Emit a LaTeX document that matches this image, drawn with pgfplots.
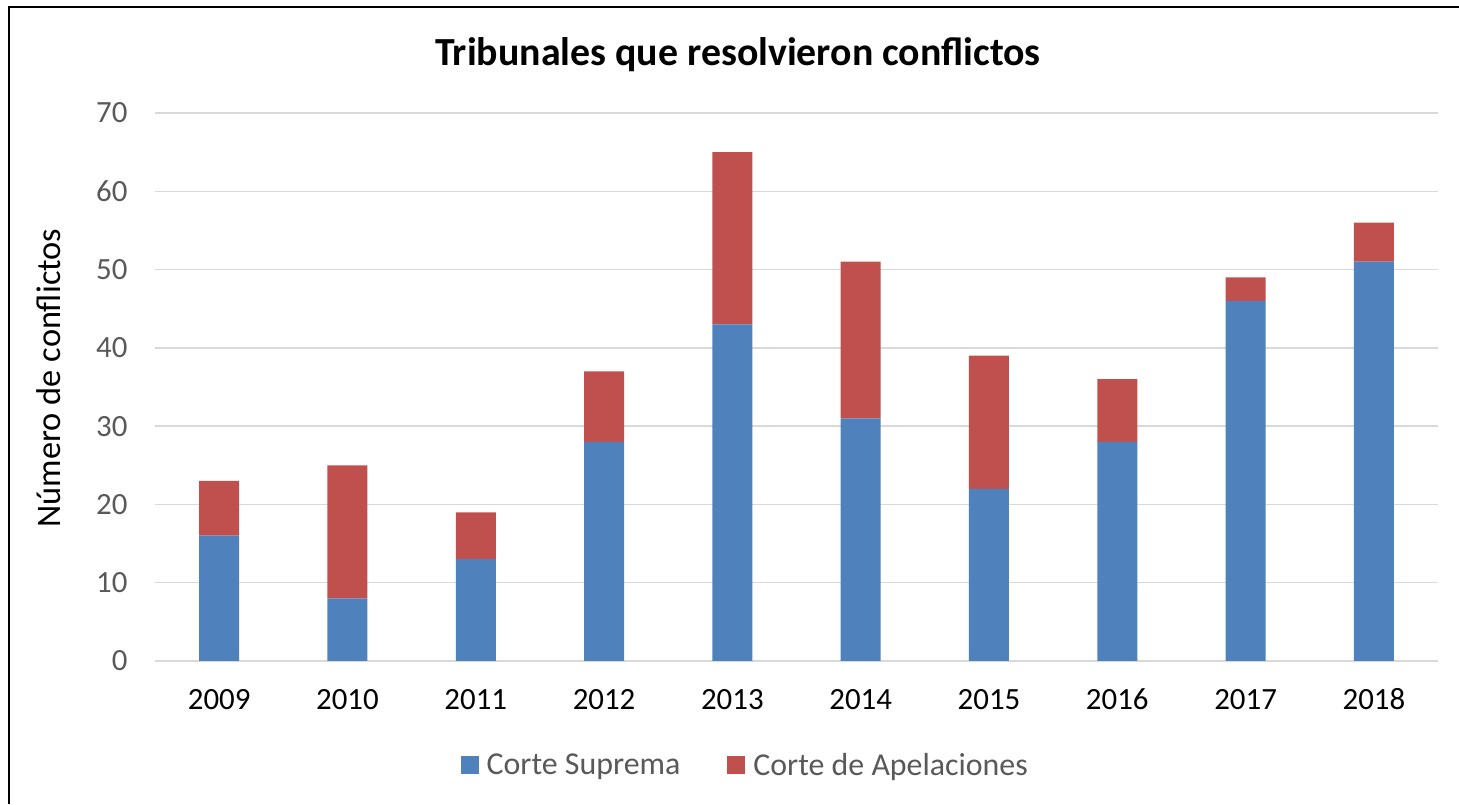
\documentclass[border=0pt]{standalone}
\usepackage{fontspec}
\setmainfont{Carlito}
\usepackage{pgfplots}
\pgfplotsset{compat=1.18}

\definecolor{csblue}{HTML}{4F81BD}
\definecolor{cared}{HTML}{C0504D}
\definecolor{gridgray}{HTML}{D9D9D9}
\definecolor{txtgray}{HTML}{595959}

\begin{document}
\begin{tikzpicture}[x=1bp,y=1bp]
\useasboundingbox (0,0) rectangle (1459,804);
\draw[line width=2bp,black] (9,0) -- (9,797) -- (1459,797);
\node[font=\fontsize{40}{46}\selectfont\bfseries] at (738,749) {Tribunales que resolvieron conflictos};
\node[rotate=90,font=\fontsize{34.5}{40}\selectfont] at (49,426) {Número de conflictos};
\begin{axis}[
  at={(155bp,143bp)}, anchor=south west,
  scale only axis,
  width=1283bp, height=548bp,
  ybar stacked,
  bar width=40bp,
  xmin=-0.5, xmax=9.5,
  ymin=0, ymax=70,
  ytick={0,10,...,70},
  xtick={0,...,9},
  xticklabels={2009,2010,2011,2012,2013,2014,2015,2016,2017,2018},
  axis line style={draw=none},
  major tick style={draw=none},
  ymajorgrids,
  major grid style={gridgray,line width=1.5bp},
  yticklabel style={font=\fontsize{31}{37}\selectfont,text=txtgray,xshift=-24bp},
  xticklabel style={font=\fontsize{31}{37}\selectfont,text=black,anchor=base,yshift=-48bp},
  /pgf/number format/assume math mode=true,
  legend style={at={(0.46,-0.19)},anchor=center,draw=none,
    legend columns=2,font=\fontsize{32}{38}\selectfont,text=txtgray,
    /tikz/every odd column/.append style={column sep=6bp},
    /tikz/every even column/.append style={column sep=45bp}},
  legend image code/.code={\fill[#1] (0bp,-9bp) rectangle (18bp,9bp);},
]
\addplot[fill=csblue,draw=none] coordinates
  {(0,16) (1,8) (2,13) (3,28) (4,43) (5,31) (6,22) (7,28) (8,46) (9,51)};
\addplot[fill=cared,draw=none] coordinates
  {(0,7) (1,17) (2,6) (3,9) (4,22) (5,20) (6,17) (7,8) (8,3) (9,5)};
\legend{Corte Suprema,Corte de Apelaciones}
\end{axis}
\end{tikzpicture}
\end{document}
